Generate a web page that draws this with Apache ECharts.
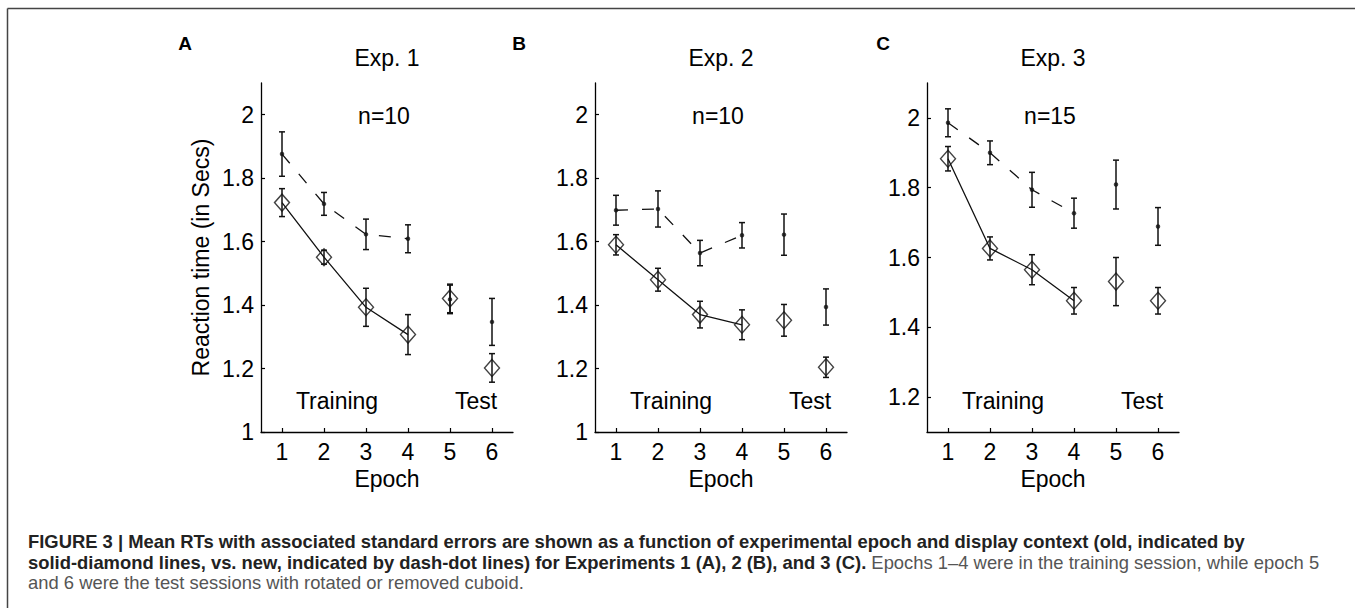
<!DOCTYPE html>
<html>
<head>
<meta charset="utf-8">
<script src="https://cdn.jsdelivr.net/npm/echarts@6/dist/echarts.min.js"></script>
<style>
html,body{margin:0;padding:0;background:#fff;}
#chart{width:1355px;height:608px;}
</style>
</head>
<body>
<div id="chart"></div>
<script>
// ---------- data ----------
const epochs = [1, 2, 3, 4, 5, 6];
const xTicks = [1, 2, 3, 4, 5, 6];
const yTicksAB = [1, 1.2, 1.4, 1.6, 1.8, 2];
const yTicksC = [1.2, 1.4, 1.6, 1.8, 2];
const trainingCount = 4;

const exp1New   = [1.876, 1.719, 1.623, 1.609, 1.418, 1.347];
const exp1NewSE = [0.070, 0.036, 0.048, 0.044, 0.045, 0.074];
const exp1Old   = [1.723, 1.551, 1.393, 1.307, 1.421, 1.202];
const exp1OldSE = [0.044, 0.022, 0.060, 0.063, 0.045, 0.045];

const exp2New   = [1.699, 1.703, 1.564, 1.620, 1.622, 1.394];
const exp2NewSE = [0.047, 0.057, 0.040, 0.040, 0.065, 0.057];
const exp2Old   = [1.590, 1.480, 1.370, 1.338, 1.352, 1.204];
const exp2OldSE = [0.032, 0.036, 0.042, 0.047, 0.050, 0.032];

const exp3New   = [1.986, 1.900, 1.794, 1.727, 1.809, 1.689];
const exp3NewSE = [0.040, 0.034, 0.050, 0.043, 0.070, 0.054];
const exp3Old   = [1.883, 1.626, 1.565, 1.476, 1.531, 1.476];
const exp3OldSE = [0.035, 0.033, 0.043, 0.038, 0.069, 0.038];

const panelLetters = ['A', 'B', 'C'];
const panelTitles = ['Exp. 1', 'Exp. 2', 'Exp. 3'];
const panelN = ['n=10', 'n=10', 'n=15'];
const yAxisName = 'Reaction time (in Secs)';
const xAxisName = 'Epoch';
const captionBold1 = 'FIGURE 3 | Mean RTs with associated standard errors are shown as a function of experimental epoch and display context (old, indicated by';
const captionBold2 = 'solid-diamond lines, vs. new, indicated by dash-dot lines) for Experiments 1 (A), 2 (B), and 3 (C).';
const captionReg2 = ' Epochs 1\u20134 were in the training session, while epoch 5';
const captionReg3 = 'and 6 were the test sessions with rotated or removed cuboid.';

// ---------- layout ----------
const FONT = "'Liberation Sans', Arial, Helvetica, sans-serif";
const FS = 23;
const INK = '#111';
const gridLefts = [261, 595, 927];
const gridW = 252, gridTop = 83, gridBottom = 176;
const yMins = [1, 1, 1.1];
const yTickSets = [yTicksAB, yTicksAB, yTicksC];
const letterXs = [185, 519, 883];
const panels = [
  {nv: exp1New, ns: exp1NewSE, ov: exp1Old, os: exp1OldSE},
  {nv: exp2New, ns: exp2NewSE, ov: exp2Old, os: exp2OldSE},
  {nv: exp3New, ns: exp3NewSE, ov: exp3Old, os: exp3OldSE}
];

function errRender(params, api) {
  const x = api.value(0), y = api.value(1), e = api.value(2);
  const t = api.coord([x, y + e]);
  const b = api.coord([x, y - e]);
  const cw = 3;
  const st = {stroke: INK, lineWidth: 1.5};
  return {type: 'group', children: [
    {type: 'line', shape: {x1: t[0], y1: t[1], x2: b[0], y2: b[1]}, style: st},
    {type: 'line', shape: {x1: t[0] - cw, y1: t[1], x2: t[0] + cw, y2: t[1]}, style: st},
    {type: 'line', shape: {x1: b[0] - cw, y1: b[1], x2: b[0] + cw, y2: b[1]}, style: st}
  ]};
}

function txt(x, y, text, font) {
  return {type: 'text', x: x, y: y, style: {text: text, font: font, fill: '#000', align: 'center', verticalAlign: 'middle'}};
}

const grid = [], xAxis = [], yAxis = [], series = [], graphic = [];
panels.forEach((p, i) => {
  grid.push({left: gridLefts[i], width: gridW, top: gridTop, bottom: gridBottom});
  xAxis.push({
    type: 'value', gridIndex: i, min: 0.5, max: 6.5,
    name: xAxisName, nameLocation: 'middle', nameGap: 35,
    nameTextStyle: {fontFamily: FONT, fontSize: FS, color: '#000'},
    axisLine: {lineStyle: {color: '#000', width: 1.3}},
    axisTick: {inside: true, length: 4, customValues: xTicks, lineStyle: {color: '#000', width: 1.2}},
    axisLabel: {customValues: xTicks, margin: 8, fontFamily: FONT, fontSize: FS, color: '#000'},
    splitLine: {show: false}
  });
  yAxis.push({
    type: 'value', gridIndex: i, min: yMins[i], max: 2.1,
    name: i === 0 ? yAxisName : '', nameLocation: 'middle', nameGap: 49,
    nameTextStyle: {fontFamily: FONT, fontSize: FS, color: '#000'},
    axisLine: {show: true, lineStyle: {color: '#000', width: 1.3}},
    axisTick: {show: true, inside: true, length: 4, customValues: yTickSets[i], lineStyle: {color: '#000', width: 1.2}},
    axisLabel: {customValues: yTickSets[i], margin: 7, fontFamily: FONT, fontSize: FS, color: '#000'},
    splitLine: {show: false}
  });
  const newPts = epochs.map((e, k) => [e, p.nv[k]]);
  const oldPts = epochs.map((e, k) => [e, p.ov[k]]);
  series.push({
    type: 'line', xAxisIndex: i, yAxisIndex: i, data: newPts.slice(0, trainingCount),
    showSymbol: false, lineStyle: {color: INK, width: 1.3, type: [12, 14]}, silent: true, z: 2
  });
  series.push({
    type: 'line', xAxisIndex: i, yAxisIndex: i, data: oldPts.slice(0, trainingCount),
    showSymbol: false, lineStyle: {color: INK, width: 1.3}, silent: true, z: 2
  });
  series.push({
    type: 'custom', xAxisIndex: i, yAxisIndex: i, renderItem: errRender,
    data: epochs.map((e, k) => [e, p.nv[k], p.ns[k]]), encode: {x: 0, y: 1}, z: 3, silent: true
  });
  series.push({
    type: 'custom', xAxisIndex: i, yAxisIndex: i, renderItem: errRender,
    data: epochs.map((e, k) => [e, p.ov[k], p.os[k]]), encode: {x: 0, y: 1}, z: 3, silent: true
  });
  series.push({
    type: 'scatter', xAxisIndex: i, yAxisIndex: i, data: oldPts,
    symbol: 'diamond', symbolSize: [15, 17],
    itemStyle: {color: 'rgba(255,255,255,0)', borderColor: INK, borderWidth: 1.4}, z: 4, silent: true
  });
  series.push({
    type: 'scatter', xAxisIndex: i, yAxisIndex: i, data: newPts,
    symbol: 'circle', symbolSize: 4.5, itemStyle: {color: INK}, z: 5, silent: true
  });

  const cx = gridLefts[i] + gridW / 2;
  graphic.push(txt(letterXs[i], 43, panelLetters[i], 'bold 19px ' + FONT));
  graphic.push(txt(cx, 58, panelTitles[i], FS + 'px ' + FONT));
  graphic.push(txt(gridLefts[i] + 123, 116, panelN[i], FS + 'px ' + FONT));
  graphic.push(txt(gridLefts[i] + 76, 401, 'Training', FS + 'px ' + FONT));
  graphic.push(txt(gridLefts[i] + 215, 401, 'Test', FS + 'px ' + FONT));
});

// frame
graphic.push({type: 'line', shape: {x1: 7.5, y1: 8.5, x2: 1355, y2: 8.5}, style: {stroke: '#444', lineWidth: 1.5}});
graphic.push({type: 'line', shape: {x1: 7.5, y1: 8.5, x2: 7.5, y2: 608}, style: {stroke: '#444', lineWidth: 1.5}});

// caption
const CF = '18.4px ' + FONT;
graphic.push({type: 'text', x: 28, y: 541, style: {text: captionBold1, font: 'bold ' + CF, fill: '#222', verticalAlign: 'middle'}});
graphic.push({type: 'text', x: 28, y: 562, style: {
  text: '{b|' + captionBold2 + '}{r|' + captionReg2 + '}', verticalAlign: 'middle',
  rich: {b: {font: 'bold ' + CF, fill: '#222'}, r: {font: CF, fill: '#555'}}
}});
graphic.push({type: 'text', x: 28, y: 582, style: {text: captionReg3, font: CF, fill: '#555', verticalAlign: 'middle'}});

const chart = echarts.init(document.getElementById('chart'), null, {renderer: 'svg'});
chart.setOption({
  animation: false,
  backgroundColor: '#fff',
  grid, xAxis, yAxis, series, graphic
});
</script>
</body>
</html>
